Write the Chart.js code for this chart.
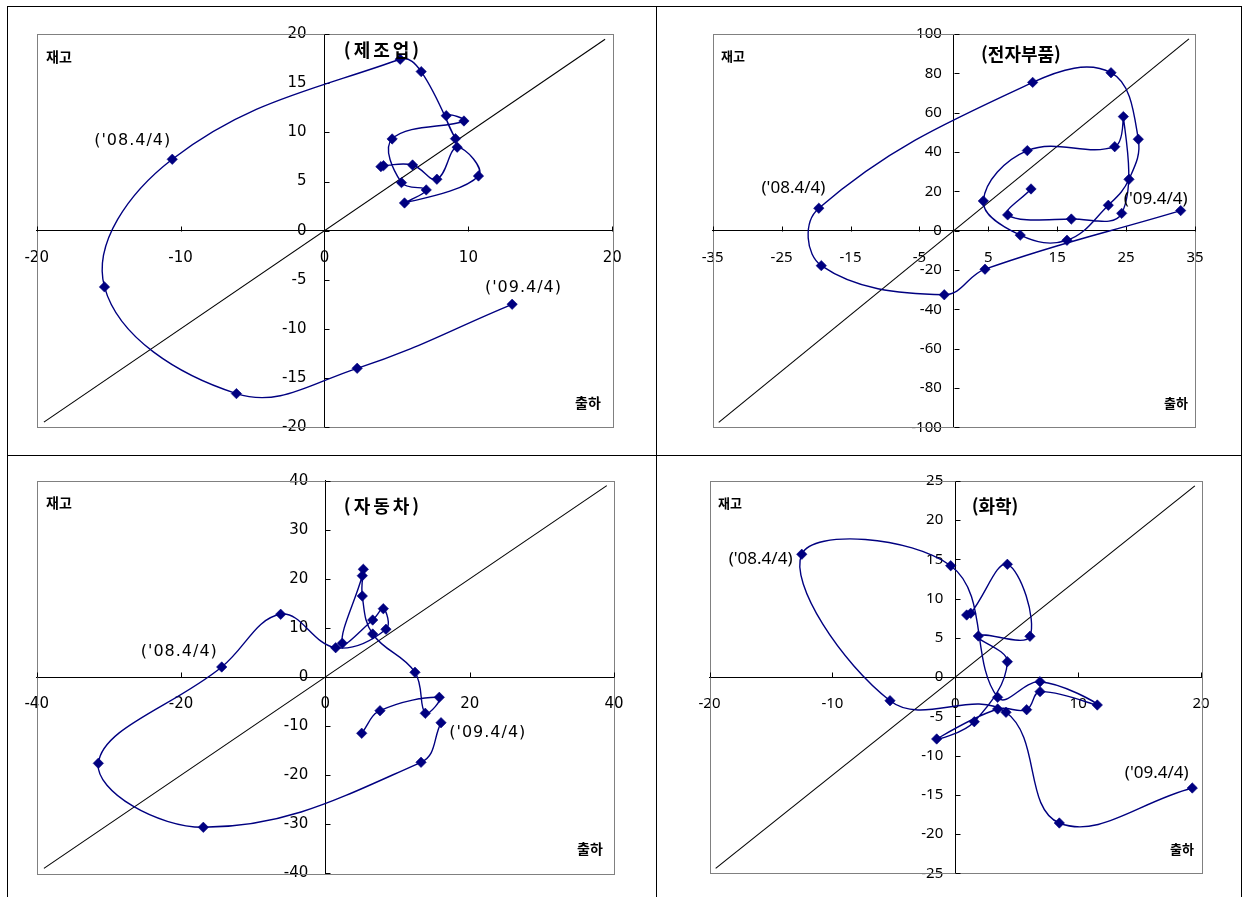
<!DOCTYPE html>
<html lang="ko">
<head>
<meta charset="utf-8">
<title>업종별 출하·재고 순환도</title>
<script src="https://cdn.jsdelivr.net/npm/chart.js@4.4.1/dist/chart.umd.min.js"></script>
<style>
  html, body { margin: 0; padding: 0; background: #fff; }
  #board { position: relative; width: 1247px; height: 897px; overflow: hidden; background: #fff; }
  #board canvas { position: absolute; left: 0; top: 0; }
  .rule { position: absolute; background: #000; }
  .txt { position: absolute; transform: translate(-50%, -50%); white-space: nowrap; line-height: 1;
         color: #000; font-family: "Noto Sans CJK KR", "Noto Sans", sans-serif; font-weight: 700; z-index: 5; }
  .title { font-size: 18px; }
  .wide { letter-spacing: 3px; }
  .nm14 { font-size: 14px; }
  .nm13 { font-size: 13px; }
</style>
</head>
<body>
<div id="board">
  <!-- cell frame -->
  <div class="rule" style="left:7px;top:6px;width:1235px;height:1px"></div>
  <div class="rule" style="left:7px;top:6px;width:1px;height:891px"></div>
  <div class="rule" style="left:1241px;top:6px;width:1px;height:891px"></div>
  <div class="rule" style="left:656px;top:6px;width:1px;height:891px"></div>
  <div class="rule" style="left:7px;top:455px;width:1235px;height:1px"></div>

  <canvas id="c1" width="1247" height="897"></canvas>
  <canvas id="c2" width="1247" height="897"></canvas>
  <canvas id="c3" width="1247" height="897"></canvas>
  <canvas id="c4" width="1247" height="897"></canvas>

  <div class="txt title wide" style="left:383px;top:49px">(제조업)</div>
  <div class="txt title" style="left:1021px;top:53px">(전자부품)</div>
  <div class="txt title wide" style="left:383px;top:505px">(자동차)</div>
  <div class="txt title" style="left:995px;top:505px">(화학)</div>

  <div class="txt nm14" style="left:59px;top:56px">재고</div>
  <div class="txt nm13" style="left:733px;top:55px">재고</div>
  <div class="txt nm14" style="left:59px;top:502px">재고</div>
  <div class="txt nm13" style="left:730px;top:502px">재고</div>

  <div class="txt nm14" style="left:588px;top:402px">출하</div>
  <div class="txt nm13" style="left:1176px;top:402px">출하</div>
  <div class="txt nm14" style="left:590px;top:848px">출하</div>
  <div class="txt nm13" style="left:1182px;top:848px">출하</div>
</div>

<script>
// Quarters covered by every series
const quarters = ["'05.1/4", "'05.2/4", "'05.3/4", "'05.4/4",
                  "'06.1/4", "'06.2/4", "'06.3/4", "'06.4/4",
                  "'07.1/4", "'07.2/4", "'07.3/4", "'07.4/4",
                  "'08.1/4", "'08.2/4", "'08.3/4", "'08.4/4",
                  "'09.1/4", "'09.2/4", "'09.3/4", "'09.4/4"];

// 제조업 : 출하(x), 재고(y) 증가율
const mfgShip = [3.92, 4.10, 6.12, 7.81, 9.22, 10.70, 5.56, 7.07, 5.35, 4.70,
                 9.69, 8.46, 9.10, 6.72, 5.26, -10.58, -15.29, -6.12, 2.27, 13.04];
const mfgInv  = [6.52, 6.62, 6.69, 5.24, 8.50, 5.57, 2.82, 4.15, 4.89, 9.34,
                 11.17, 11.71, 9.37, 16.20, 17.46, 7.27, -5.73, -16.60, -14.02, -7.50];

// 전자부품
const elecShip = [11.20, 7.81, 17.05, 24.36, 24.60, 23.35, 10.66, 4.28, 9.64, 16.42,
                  22.42, 25.42, 26.77, 22.81, 11.44, -19.60, -19.24, -1.39, 4.52, 32.92];
const elecInv  = [21.2, 8.0, 5.9, 8.8, 58.0, 42.7, 40.7, 15.1, -2.3, -4.9,
                  12.9, 26.1, 46.5, 80.3, 75.4, 11.4, -17.8, -32.6, -19.6, 10.2];

// 자동차
const autoShip = [5.04, 7.57, 15.79, 13.85, 12.42, 6.56, 5.12, 5.26, 5.12, 2.35,
                  6.56, 8.03, 8.40, 1.43, -6.19, -14.36, -31.46, -16.91, 13.26, 16.03];
const autoInv  = [-11.47, -6.87, -4.14, -7.40, 0.96, 8.76, 16.50, 21.95, 20.64, 6.87,
                  11.61, 13.92, 9.72, 5.97, 12.78, 2.04, -17.59, -30.63, -17.38, -9.31];

// 화학
const chemShip = [0.93, 1.26, 4.24, 6.08, 1.88, 4.24, 1.55, -1.51, 3.45, 5.81,
                  6.90, 11.56, 6.90, 3.45, -0.37, -12.49, -5.31, 4.13, 8.47, 19.29];
const chemInv  = [7.92, 8.14, 14.38, 5.21, 5.24, 1.97, -5.68, -7.88, -4.06, -4.15,
                  -1.85, -3.55, -0.58, -2.57, 14.20, 15.66, -3.00, -4.48, -18.59, -14.13];

// Axis ticks
const mfgXTicks  = [-20, -10, 0, 10, 20];
const mfgYTicks  = [-20, -15, -10, -5, 0, 5, 10, 15, 20];
const elecXTicks = [-35, -25, -15, -5, 5, 15, 25, 35];
const elecYTicks = [-100, -80, -60, -40, -20, 0, 20, 40, 60, 80, 100];
const autoXTicks = [-40, -20, 0, 20, 40];
const autoYTicks = [-40, -30, -20, -10, 0, 10, 20, 30, 40];
const chemXTicks = [-20, -10, 0, 10, 20];
const chemYTicks = [-25, -20, -15, -10, -5, 0, 5, 10, 15, 20, 25];

// Quarters that get a text tag on the path
const taggedQuarters = [15, 19];

const NAVY = '#000080';
const W = 1247, H = 897;
const DIAG = 0.975;   // the 45° guide stops just short of the frame corners

// Plot frame and inward tick marks on the zero axes
const panelDecor = {
  id: 'panelDecor',
  beforeDatasetsDraw(chart) {
    const { ctx, chartArea: a } = chart;
    const xs = chart.scales.x, ys = chart.scales.y;
    ctx.save();
    ctx.strokeStyle = '#808080';
    ctx.lineWidth = 1;
    ctx.strokeRect(Math.round(a.left) + 0.5, Math.round(a.top) + 0.5,
                   Math.round(a.right - a.left), Math.round(a.bottom - a.top));
    const x0 = Math.round(xs.getPixelForValue(0)) + 0.5;
    const y0 = Math.round(ys.getPixelForValue(0)) + 0.5;
    ctx.strokeStyle = '#000';
    ctx.beginPath();
    xs.ticks.forEach(t => {
      const px = Math.round(xs.getPixelForValue(t.value)) + 0.5;
      ctx.moveTo(px, y0); ctx.lineTo(px, y0 - 5);
    });
    ys.ticks.forEach(t => {
      const py = Math.round(ys.getPixelForValue(t.value)) + 0.5;
      ctx.moveTo(x0, py); ctx.lineTo(x0 + 5, py);
    });
    ctx.stroke();
    ctx.restore();
  }
};

// Quarter tags next to chosen points of the path
const pointTags = {
  id: 'pointTags',
  afterDatasetsDraw(chart, args, o) {
    const meta = chart.getDatasetMeta(0);
    const ctx = chart.ctx;
    ctx.save();
    ctx.font = o.font;
    if ('letterSpacing' in ctx) ctx.letterSpacing = o.spacing || '0px';
    ctx.fillStyle = '#000';
    ctx.textAlign = 'center';
    ctx.textBaseline = 'middle';
    o.items.forEach(it => {
      const el = meta.data[it.index];
      ctx.fillText('(' + quarters[it.index] + ')', el.x + it.dx, el.y + it.dy);
    });
    ctx.restore();
  }
};

// Keep the value labels of the vertical axis clear of the axis line
const yLabelGap = {
  id: 'yLabelGap',
  beforeDraw(chart, args, o) {
    const s = chart.scales.y;
    if (s.__gapWrapped) return;
    const orig = s.drawLabels;
    s.drawLabels = function (area) {
      this.ctx.save();
      this.ctx.translate(-o.gap, 0);
      orig.call(this, area);
      this.ctx.restore();
    };
    s.__gapWrapped = true;
  }
};

function buildPanel(p) {
  const pts = p.ship.map((v, i) => ({ x: v, y: p.inv[i] }));
  const xl = p.xTicks[0], xh = p.xTicks[p.xTicks.length - 1];
  const yl = p.yTicks[0], yh = p.yTicks[p.yTicks.length - 1];
  const guide = [{ x: xl * DIAG, y: yl * DIAG }, { x: xh * DIAG, y: yh * DIAG }];
  const tickFont = { family: p.tickFamily, size: 15 };

  return new Chart(document.getElementById(p.canvas), {
    type: 'scatter',
    data: {
      datasets: [
        {
          data: pts, showLine: true, tension: 0.4,
          borderColor: NAVY, borderWidth: 1.4,
          backgroundColor: NAVY, pointBackgroundColor: NAVY, pointBorderColor: NAVY,
          pointStyle: 'rectRot', pointRadius: 5.2, pointBorderWidth: 0.6,
          order: 0
        },
        {
          data: guide, showLine: true, tension: 0,
          borderColor: '#000', borderWidth: 1.1, pointRadius: 0,
          order: 1
        }
      ]
    },
    options: {
      responsive: false, animation: false, devicePixelRatio: 1,
      events: [],
      layout: { padding: { left: p.area.left, top: p.area.top,
                           right: W - p.area.right, bottom: H - p.area.bottom } },
      plugins: {
        legend: { display: false },
        tooltip: { enabled: false },
        pointTags: { font: p.tagFont, spacing: p.tagSpacing,
                     items: taggedQuarters.map((q, k) => ({ index: q, dx: p.tagOffsets[k][0], dy: p.tagOffsets[k][1] })) },
        yLabelGap: { gap: p.yGap }
      },
      scales: {
        x: {
          type: 'linear', min: xl, max: xh, position: { y: 0 },
          grid: { drawOnChartArea: false, drawTicks: false },
          border: { display: true, color: '#000', width: 1 },
          ticks: { font: tickFont, color: '#000', padding: 18, autoSkip: false, maxRotation: 0, minRotation: 0 },
          afterBuildTicks: s => { s.ticks = p.xTicks.map(v => ({ value: v })); }
        },
        y: {
          type: 'linear', min: yl, max: yh, position: { x: 0 },
          grid: { drawOnChartArea: false, drawTicks: false },
          border: { display: true, color: '#000', width: 1 },
          ticks: { font: tickFont, color: '#000', padding: 0, autoSkip: false },
          afterBuildTicks: s => { s.ticks = p.yTicks.map(v => ({ value: v })); }
        }
      }
    },
    plugins: [panelDecor, pointTags, yLabelGap]
  });
}

buildPanel({
  canvas: 'c1', ship: mfgShip, inv: mfgInv, xTicks: mfgXTicks, yTicks: mfgYTicks,
  area: { left: 36.7, top: 34.3, right: 612.3, bottom: 427 },
  tickFamily: 'DejaVu Sans', yGap: 18,
  tagFont: '16px "DejaVu Sans"', tagSpacing: '1px',
  tagOffsets: [[-39.5, -18.6], [11.3, -16.8]]
});
buildPanel({
  canvas: 'c2', ship: elecShip, inv: elecInv, xTicks: elecXTicks, yTicks: elecYTicks,
  area: { left: 712.7, top: 34, right: 1195, bottom: 427.3 },
  tickFamily: 'Noto Sans', yGap: 12,
  tagFont: '17px "Noto Sans"', tagSpacing: '0px',
  tagOffsets: [[-25.4, -20.5], [-24.9, -11.5]]
});
buildPanel({
  canvas: 'c3', ship: autoShip, inv: autoInv, xTicks: autoXTicks, yTicks: autoYTicks,
  area: { left: 36.7, top: 480.7, right: 614, bottom: 873.3 },
  tickFamily: 'DejaVu Sans', yGap: 17,
  tagFont: '16px "DejaVu Sans"', tagSpacing: '1px',
  tagOffsets: [[-42.4, -15.3], [46.8, 10.6]]
});
buildPanel({
  canvas: 'c4', ship: chemShip, inv: chemInv, xTicks: chemXTicks, yTicks: chemYTicks,
  area: { left: 709.5, top: 481, right: 1201, bottom: 873.3 },
  tickFamily: 'Noto Sans', yGap: 12,
  tagFont: '17px "Noto Sans"', tagSpacing: '0px',
  tagOffsets: [[-41.2, 4.5], [-35.6, -15.3]]
});
</script>
</body>
</html>
